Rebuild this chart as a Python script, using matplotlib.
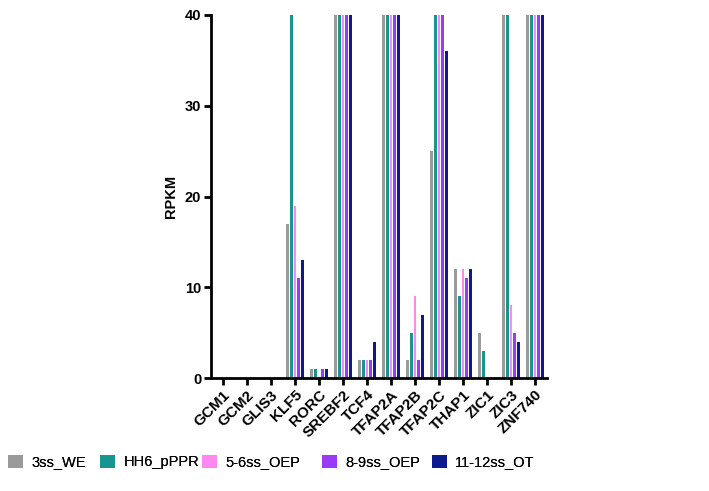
import numpy as np
import matplotlib
matplotlib.use("Agg")
import matplotlib.pyplot as plt

plt.rcParams["font.family"] = ["Liberation Sans", "DejaVu Sans"]

genes = ["GCM1", "GCM2", "GLIS3", "KLF5", "RORC", "SREBF2", "TCF4", "TFAP2A",
         "TFAP2B", "TFAP2C", "THAP1", "ZIC1", "ZIC3", "ZNF740"]
stages = ["3ss_WE", "HH6_pPPR", "5-6ss_OEP", "8-9ss_OEP", "11-12ss_OT"]
colors = ["#9a9a9a", "#16968f", "#ff88f0", "#9a3cf5", "#0c1a8e"]

# RPKM, clipped at the 40 axis top as in the original
we_3ss = [0, 0, 0, 17, 1, 40, 2, 40, 2, 25, 12, 5, 40, 40]
hh6_ppr = [0, 0, 0, 40, 1, 40, 2, 40, 5, 40, 9, 3, 40, 40]
oep_56 = [0, 0, 0, 19, 0, 40, 2, 40, 9, 40, 12, 0, 8, 40]
oep_89 = [0, 0, 0, 11, 1, 40, 2, 40, 2, 40, 11, 0, 5, 40]
ot_1112 = [0, 0, 0, 13, 1, 40, 4, 40, 7, 36, 12, 0, 4, 40]
series = [we_3ss, hh6_ppr, oep_56, oep_89, ot_1112]

fig = plt.figure(figsize=(7.09, 4.91), dpi=100)
ax = fig.add_axes([0.2976, 0.230, 0.4739, 0.7395])

x = np.arange(len(genes))
pitch = 0.15
bars = []
for k, (vals, c, lab) in enumerate(zip(series, colors, stages)):
    bars.append(ax.bar(x + (k - 2) * pitch, vals, width=pitch * 0.78,
                       color=c, label=lab))

ax.set_xlim(-0.5, len(genes) - 0.5)
ax.set_ylim(0, 40)
ax.set_yticks([0, 10, 20, 30, 40])
ax.set_xticks(x)
ax.set_xticklabels(genes, rotation=45, ha="right", rotation_mode="anchor",
                   fontweight="bold", fontsize=11)
for t in ax.get_yticklabels():
    t.set_fontweight("bold")
    t.set_fontsize(10.5)
ax.set_ylabel("RPKM", fontweight="bold", fontsize=10.5, labelpad=5)
for s in ["top", "right"]:
    ax.spines[s].set_visible(False)
for s in ["left", "bottom"]:
    ax.spines[s].set_linewidth(2)
ax.tick_params(axis="both", width=2, length=5, pad=2)

# one legend entry per stage, placed along the bottom like the original
leg_x = [8, 100, 202, 322, 432]
for b, lab, lx in zip(bars, stages, leg_x):
    leg = fig.legend([b], [lab], loc="center left",
                     bbox_to_anchor=(lx / 709, 0.059), frameon=False,
                     borderaxespad=0, borderpad=0, handlelength=1.0,
                     handleheight=1.0, handletextpad=0.6,
                     prop={"size": 10.5})
    fig.add_artist(leg)

fig.savefig("out.png", dpi=100)
